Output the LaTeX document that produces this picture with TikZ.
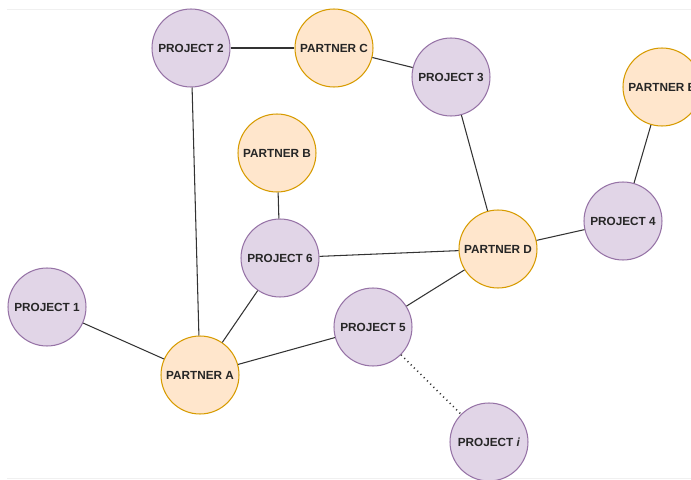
\documentclass[tikz,border=0pt]{standalone}
\usepackage{fontspec}
\setmainfont{Liberation Sans}
\usepackage{tikz}
\usetikzlibrary{positioning,calc}

\definecolor{projfill}{HTML}{E1D5E7}
\definecolor{projdraw}{HTML}{9673A6}
\definecolor{partfill}{HTML}{FFE6CC}
\definecolor{partdraw}{HTML}{D79B00}
\definecolor{linkgray}{HTML}{333333}

\begin{document}
\begin{tikzpicture}[
    x=0.02cm, y=-0.02cm,
    project/.style={circle, draw=projdraw, fill=projfill, line width=0.6pt, minimum size=1.56cm, inner sep=0pt, font=\fontsize{6.7}{8}\selectfont\bfseries, text=black!85},
    partner/.style={circle, draw=partdraw, fill=partfill, line width=0.6pt, minimum size=1.56cm, inner sep=0pt, font=\fontsize{6.7}{8}\selectfont\bfseries, text=black!85},
    link/.style={draw=linkgray, line width=0.6pt},
    maybe/.style={link, dotted, line width=0.9pt}
]
\useasboundingbox (0,0) rectangle (691,480);
\clip (0,0) rectangle (691,480);

% faint frame lines of the screenshot
\draw[black!6, line width=0.5pt] (7,9) -- (691,9);
\draw[black!6, line width=0.5pt] (7,478) -- (691,478);

% Projects
\node[project] (p2) at (191,48) {PROJECT 2};
\node[project] (p3) at (451,77) {PROJECT 3};
\node[project] (p4) at (623,221) {PROJECT 4};
\node[project] (p6) at (280,258) {PROJECT 6};
\node[project] (p1) at (47,307) {PROJECT 1};
\node[project] (p5) at (373,327) {PROJECT 5};
\node[project] (pi) at (489,442) {PROJECT \textit{i}};

% Partners
\node[partner] (pc) at (334,48) {PARTNER C};
\node[partner] (pe) at (662,87) {PARTNER E};
\node[partner] (pb) at (277,153) {PARTNER B};
\node[partner] (pd) at (498,249) {PARTNER D};
\node[partner] (pa) at (200,375) {PARTNER A};

% Links
\draw[link] (p2) -- (pc);
\draw[link] (pc) -- (p3);
\draw[link] (p3) -- (pd);
\draw[link] (pe) -- (p4);
\draw[link] (p4) -- (pd);
\draw[link] (pb) -- (p6);
\draw[link] (p6) -- (pd);
\draw[link] (p6) -- (pa);
\draw[link] (p2) -- (pa);
\draw[link] (p1) -- (pa);
\draw[link] (pa) -- (p5);
\draw[link] (p5) -- (pd);
\draw[maybe] (p5) -- (pi);
\end{tikzpicture}
\end{document}
